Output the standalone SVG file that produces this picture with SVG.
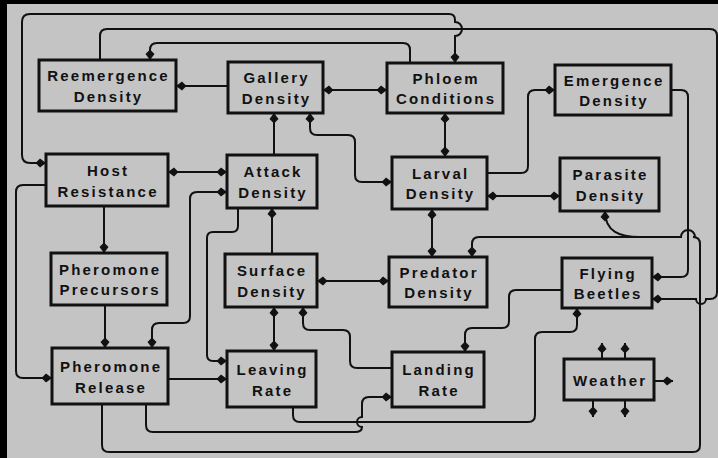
<svg xmlns="http://www.w3.org/2000/svg" width="718" height="458" viewBox="0 0 718 458">
<defs>
<marker id="a" markerUnits="userSpaceOnUse" markerWidth="14" markerHeight="12" refX="0" refY="0" viewBox="-11 -6 12 12" orient="auto-start-reverse">
<path d="M0,0 L-6,-4.5 L-10.5,0 L-6,4.5 Z" fill="#111"/>
</marker>
<style>
.bx{fill:none;stroke:#111;stroke-width:3}
.t{font-family:"Liberation Sans",Arial,sans-serif;font-weight:bold;font-size:15px;letter-spacing:2.2px;fill:#111;text-anchor:middle}
.c path{fill:none;stroke:#111;stroke-width:2}
.e{marker-end:url(#a)}
.b{marker-start:url(#a);marker-end:url(#a)}
</style>
</defs>
<rect width="718" height="458" fill="#000"/>
<rect x="7" y="4" width="711" height="454" fill="#c4c4c4"/>
<g class="c" id="connectors">
<path class="b" d="M46,163 H30 Q22,163 22,155 V22 Q22,14 30,14 H449 Q455,14 455,20 V22 A7,7 0 0 1 455,36 V63"/>
<path class="e" d="M100,60 V36 Q100,29 107,29 H710 Q717,29 717,36 V292 Q717,299 710,299 H706 A5,5 0 0 1 696,299 H652"/>
<path class="e" d="M410,63 V50 Q410,43 403,43 H157 Q150,43 150,50 V60"/>
<path class="e" d="M228,86 H176"/>
<path class="b" d="M323,90 H387"/>
<path class="e" d="M274,155 V113"/>
<path class="b" d="M310,113 V128 Q310,135 317,135 H348 Q355,135 355,142 V175 Q355,182 362,182 H392"/>
<path class="b" d="M445,113 V157"/>
<path class="e" d="M487,173 H521 Q528,173 528,166 V97 Q528,90 535,90 H555"/>
<path class="e" d="M671,90 H681 Q688,90 688,97 V270 Q688,277 681,277 H652"/>
<path class="b" d="M487,196 H560"/>
<path class="e" d="M102,404 V445 Q102,452 109,452 H693 Q700,452 700,445 V244 Q700,237 693,237 H695 A7,7 0 0 0 681,237 H479 Q472,237 472,244 V257"/>
<path class="e" d="M640,237 C620,237 605,232 605,211"/>
<path class="b" d="M432,209 V257"/>
<path class="b" d="M317,281 H389"/>
<path class="e" d="M272,254 V208"/>
<path class="b" d="M168,172 H227"/>
<path class="b" d="M227,192 H197 Q190,192 190,199 V316 Q190,323 183,323 H159 Q152,323 152,330 V348"/>
<path class="e" d="M238,208 V226 Q238,232 232,232 H213 Q207,232 207,238 V355 Q207,361 213,361 H227"/>
<path class="e" d="M104,206 V253"/>
<path class="e" d="M105,305 V348"/>
<path class="e" d="M46,185 H23 Q16,185 16,192 V371 Q16,378 23,378 H52"/>
<path class="e" d="M168,379 H227"/>
<path class="b" d="M274,307 V351"/>
<path class="e" d="M392,368 H357 Q350,368 350,361 V337 Q350,330 343,330 H310 Q303,330 303,323 V307"/>
<path class="e" d="M146,404 V425 Q146,432 153,432 H355 Q362,432 362,427 A5,5 0 0 1 362,417 V404 Q362,397 369,397 H392"/>
<path class="e" d="M293,407 V415 Q293,422 300,422 H528 Q535,422 535,415 V339 Q535,332 542,332 H570 Q577,332 577,325 V308"/>
<path class="e" d="M562,290 H516 Q509,290 509,297 V321 Q509,328 502,328 H472 Q465,328 465,335 V352"/>
<path class="e" d="M602,359 V343"/>
<path class="e" d="M625,359 V343"/>
<path class="e" d="M593,400 V417"/>
<path class="e" d="M625,400 V417"/>
<path class="e" d="M654,381 H673"/>
</g>
<g id="reemergence"><rect class="bx" x="39" y="60" width="137" height="51"/><text class="t" x="108.6" y="81">Reemergence</text><text class="t" x="108.6" y="101.5">Density</text></g>
<g id="gallery"><rect class="bx" x="228" y="62" width="95" height="51"/><text class="t" x="276.6" y="83">Gallery</text><text class="t" x="276.6" y="103.5">Density</text></g>
<g id="phloem"><rect class="bx" x="387" y="63" width="116" height="50"/><text class="t" x="446.1" y="83.5">Phloem</text><text class="t" x="446.1" y="104">Conditions</text></g>
<g id="emergence"><rect class="bx" x="555" y="65" width="116" height="50"/><text class="t" x="614.1" y="85.5">Emergence</text><text class="t" x="614.1" y="106">Density</text></g>
<g id="host"><rect class="bx" x="46" y="154" width="122" height="52"/><text class="t" x="108.1" y="176">Host</text><text class="t" x="108.1" y="197">Resistance</text></g>
<g id="attack"><rect class="bx" x="227" y="155" width="90" height="53"/><text class="t" x="273.1" y="177">Attack</text><text class="t" x="273.1" y="197.5">Density</text></g>
<g id="larval"><rect class="bx" x="392" y="157" width="95" height="52"/><text class="t" x="440.6" y="178.5">Larval</text><text class="t" x="440.6" y="199">Density</text></g>
<g id="parasite"><rect class="bx" x="560" y="158" width="99" height="53"/><text class="t" x="610.6" y="180">Parasite</text><text class="t" x="610.6" y="200.5">Density</text></g>
<g id="precursors"><rect class="bx" x="51" y="253" width="116" height="52"/><text class="t" x="110.1" y="274.5">Pheromone</text><text class="t" x="110.1" y="295">Precursors</text></g>
<g id="surface"><rect class="bx" x="225" y="254" width="92" height="53"/><text class="t" x="272.1" y="276">Surface</text><text class="t" x="272.1" y="296.5">Density</text></g>
<g id="predator"><rect class="bx" x="389" y="257" width="98" height="50"/><text class="t" x="439.1" y="277.5">Predator</text><text class="t" x="439.1" y="298">Density</text></g>
<g id="flying"><rect class="bx" x="562" y="258" width="90" height="50"/><text class="t" x="608.1" y="278.5">Flying</text><text class="t" x="608.1" y="299">Beetles</text></g>
<g id="release"><rect class="bx" x="52" y="348" width="116" height="56"/><text class="t" x="111.1" y="372">Pheromone</text><text class="t" x="111.1" y="393">Release</text></g>
<g id="leaving"><rect class="bx" x="227" y="351" width="89" height="56"/><text class="t" x="272.6" y="374.5">Leaving</text><text class="t" x="272.6" y="395.5">Rate</text></g>
<g id="landing"><rect class="bx" x="392" y="352" width="92" height="55"/><text class="t" x="439.1" y="375">Landing</text><text class="t" x="439.1" y="396">Rate</text></g>
<g id="weather"><rect class="bx" x="564" y="359" width="90" height="41"/><text class="t" x="610.1" y="385.5">Weather</text></g>
</svg>
